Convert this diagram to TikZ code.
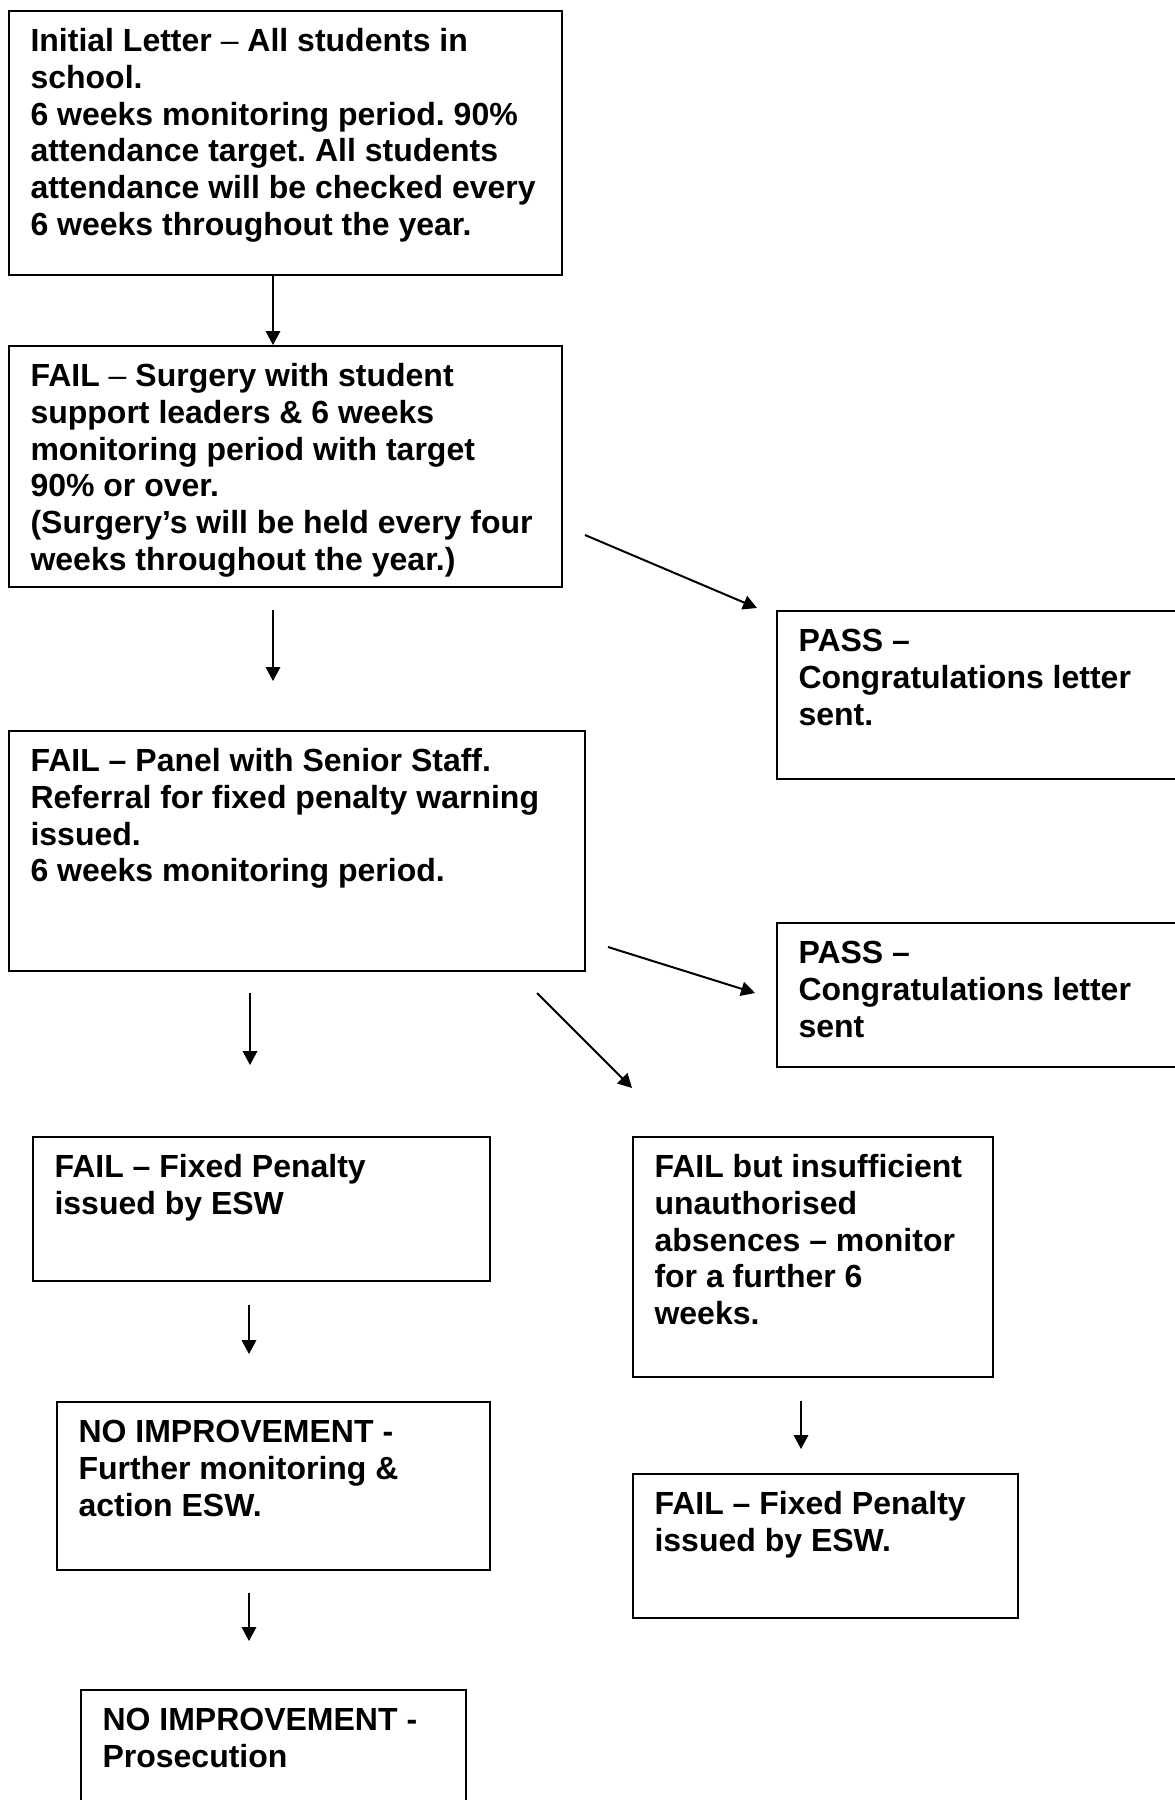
\documentclass[tikz,border=0pt]{standalone}
\usepackage{fontspec}
\setmainfont{Liberation Sans}
\usetikzlibrary{arrows.meta,fit}
\frenchspacing
\begin{document}
\begin{tikzpicture}[x=0.375pt,y=-0.375pt,
  box/.style={draw, line width=0.75pt, rectangle, inner sep=0pt},
  txt/.style={anchor=north west, inner sep=0pt, align=left,
    font=\fontsize{12}{13.8}\selectfont\bfseries},
  arr/.style={-{Triangle[length=5.2pt,width=5.4pt]}, line width=0.75pt}]
\useasboundingbox (0,0) rectangle (1174,1800);
\fill[white] (0,0) rectangle (1174,1800);
% boxes
\node[box, fit={(9,11) (562,275)}] (b1) {};
\node[box, fit={(9,346) (562,587)}] (b2) {};
\node[box, fit={(777,611) (1190,779)}] (p1) {};
\node[box, fit={(9,731) (585,971)}] (b3) {};
\node[box, fit={(777,923) (1190,1067)}] (p2) {};
\node[box, fit={(33,1137) (490,1281)}] (f1) {};
\node[box, fit={(633,1137) (993,1377)}] (r1) {};
\node[box, fit={(57,1402) (490,1570)}] (n1) {};
\node[box, fit={(633,1474) (1018,1618)}] (r2) {};
\node[box, fit={(81,1690) (466,1815)}] (n2) {};
% texts
\node[txt] (t1) at (30,22.2) {\rule{0pt}{10.8pt}Initial Letter {\mdseries –} All students in\\school.\\6 weeks monitoring period. 90\%\\attendance target. All students\\attendance will be checked every\\6 weeks throughout the year.};
\node[txt] (t2) at (30,357.2) {\rule{0pt}{10.8pt}FAIL {\mdseries –} Surgery with student\\support leaders \& 6 weeks\\monitoring period with target\\90\% or over.\\(Surgery’s will be held every four\\weeks throughout the year.)};
\node[txt] (tp1) at (798,622.2) {\rule{0pt}{10.8pt}PASS –\\Congratulations letter\\sent.};
\node[txt] (t3) at (30,742.2) {\rule{0pt}{10.8pt}FAIL – Panel with Senior Staff.\\Referral for fixed penalty warning\\issued.\\6 weeks monitoring period.};
\node[txt] (tp2) at (798,934.2) {\rule{0pt}{10.8pt}PASS –\\Congratulations letter\\sent};
\node[txt] (tf1) at (54,1148.2) {\rule{0pt}{10.8pt}FAIL – Fixed Penalty\\issued by ESW};
\node[txt] (tr1) at (654,1148.2) {\rule{0pt}{10.8pt}FAIL but insufficient\\unauthorised\\absences – monitor\\for a further 6\\weeks.};
\node[txt] (tn1) at (78,1413.2) {\rule{0pt}{10.8pt}NO IMPROVEMENT -\\Further monitoring \&\\action ESW.};
\node[txt] (tr2) at (654,1485.2) {\rule{0pt}{10.8pt}FAIL – Fixed Penalty\\issued by ESW.};
\node[txt] (tn2) at (102,1701.2) {\rule{0pt}{10.8pt}NO IMPROVEMENT -\\Prosecution};
% connectors
\coordinate (x1) at (273,0);
\draw[arr] (b1.south -| x1) -- (b2.north -| x1);
\coordinate (a2s) at (273,610); \coordinate (a2e) at (273,681);
\draw[arr] (a2s) -- (a2e);
\coordinate (d1s) at (585,535); \coordinate (d1e) at (757,608);
\draw[arr] (d1s) -- (d1e);
\coordinate (d2s) at (608,947); \coordinate (d2e) at (755,993);
\draw[arr] (d2s) -- (d2e);
\coordinate (a3s) at (250,993); \coordinate (a3e) at (250,1065);
\draw[arr] (a3s) -- (a3e);
\coordinate (d3s) at (537,993); \coordinate (d3e) at (632,1088);
\draw[arr] (d3s) -- (d3e);
\coordinate (a4s) at (249,1305); \coordinate (a4e) at (249,1354);
\draw[arr] (a4s) -- (a4e);
\coordinate (a5s) at (249,1593); \coordinate (a5e) at (249,1641);
\draw[arr] (a5s) -- (a5e);
\coordinate (a6s) at (801,1401); \coordinate (a6e) at (801,1449);
\draw[arr] (a6s) -- (a6e);
\end{tikzpicture}
\end{document}
